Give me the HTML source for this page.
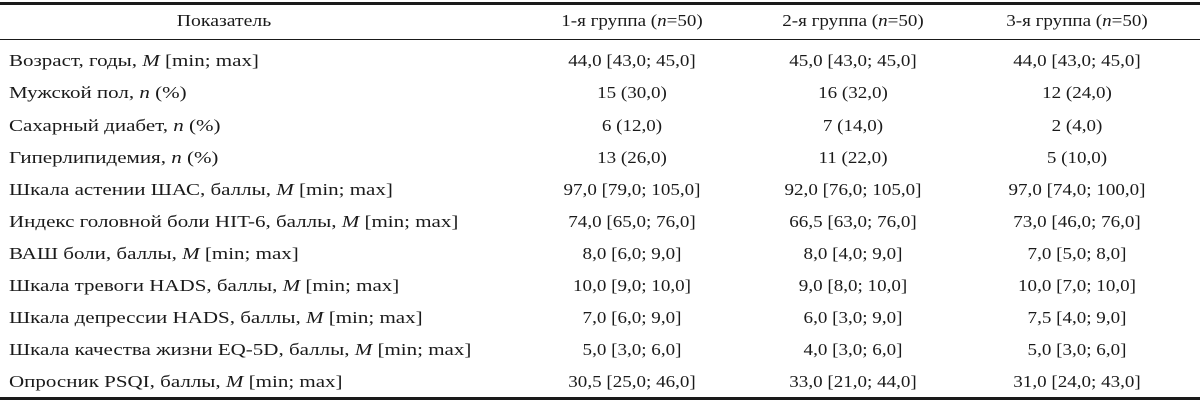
<!DOCTYPE html>
<html><head><meta charset="utf-8"><style>
body{margin:0;width:1200px;height:403px;background:#fff;font-family:"Liberation Serif",serif;color:#1a1a1a;position:relative;overflow:hidden}
.l{position:absolute;left:0;width:1200px;background:#1a1a1a}
.r{position:absolute;left:0;width:1200px;height:32px;font-size:17px;line-height:32px}
.r span{position:absolute;white-space:nowrap}
.c1{left:9px;transform:scaleX(1.235);transform-origin:0 50%}
.c2{left:632px;transform:translateX(-50%) scaleX(1.12)}
.c3{left:853px;transform:translateX(-50%) scaleX(1.12)}
.c4{left:1077px;transform:translateX(-50%) scaleX(1.12)}
.h{left:224px;transform:translateX(-50%) scaleX(1.16)}
i{font-style:italic}
</style></head><body>
<div class="l" style="top:2px;height:3px"></div>
<div class="l" style="top:39px;height:1px"></div>
<div class="l" style="top:397px;height:3px"></div>
<div class="r" style="top:5px"><span class="h">Показатель</span><span class="c2">1-я группа (<i>n</i>=50)</span><span class="c3">2-я группа (<i>n</i>=50)</span><span class="c4">3-я группа (<i>n</i>=50)</span></div>
<div class="r" style="top:45px"><span class="c1">Возраст, годы, <i>M</i> [min; max]</span><span class="c2">44,0 [43,0; 45,0]</span><span class="c3">45,0 [43,0; 45,0]</span><span class="c4">44,0 [43,0; 45,0]</span></div>
<div class="r" style="top:77px"><span class="c1">Мужской пол, <i>n</i> (%)</span><span class="c2">15 (30,0)</span><span class="c3">16 (32,0)</span><span class="c4">12 (24,0)</span></div>
<div class="r" style="top:110px"><span class="c1">Сахарный диабет, <i>n</i> (%)</span><span class="c2">6 (12,0)</span><span class="c3">7 (14,0)</span><span class="c4">2 (4,0)</span></div>
<div class="r" style="top:142px"><span class="c1">Гиперлипидемия, <i>n</i> (%)</span><span class="c2">13 (26,0)</span><span class="c3">11 (22,0)</span><span class="c4">5 (10,0)</span></div>
<div class="r" style="top:174px"><span class="c1">Шкала астении ШАС, баллы, <i>M</i> [min; max]</span><span class="c2">97,0 [79,0; 105,0]</span><span class="c3">92,0 [76,0; 105,0]</span><span class="c4">97,0 [74,0; 100,0]</span></div>
<div class="r" style="top:206px"><span class="c1">Индекс головной боли HIT-6, баллы, <i>M</i> [min; max]</span><span class="c2">74,0 [65,0; 76,0]</span><span class="c3">66,5 [63,0; 76,0]</span><span class="c4">73,0 [46,0; 76,0]</span></div>
<div class="r" style="top:238px"><span class="c1">ВАШ боли, баллы, <i>M</i> [min; max]</span><span class="c2">8,0 [6,0; 9,0]</span><span class="c3">8,0 [4,0; 9,0]</span><span class="c4">7,0 [5,0; 8,0]</span></div>
<div class="r" style="top:270px"><span class="c1">Шкала тревоги HADS, баллы, <i>M</i> [min; max]</span><span class="c2">10,0 [9,0; 10,0]</span><span class="c3">9,0 [8,0; 10,0]</span><span class="c4">10,0 [7,0; 10,0]</span></div>
<div class="r" style="top:302px"><span class="c1">Шкала депрессии HADS, баллы, <i>M</i> [min; max]</span><span class="c2">7,0 [6,0; 9,0]</span><span class="c3">6,0 [3,0; 9,0]</span><span class="c4">7,5 [4,0; 9,0]</span></div>
<div class="r" style="top:334px"><span class="c1">Шкала качества жизни EQ-5D, баллы, <i>M</i> [min; max]</span><span class="c2">5,0 [3,0; 6,0]</span><span class="c3">4,0 [3,0; 6,0]</span><span class="c4">5,0 [3,0; 6,0]</span></div>
<div class="r" style="top:366px"><span class="c1">Опросник PSQI, баллы, <i>M</i> [min; max]</span><span class="c2">30,5 [25,0; 46,0]</span><span class="c3">33,0 [21,0; 44,0]</span><span class="c4">31,0 [24,0; 43,0]</span></div>
</body></html>
